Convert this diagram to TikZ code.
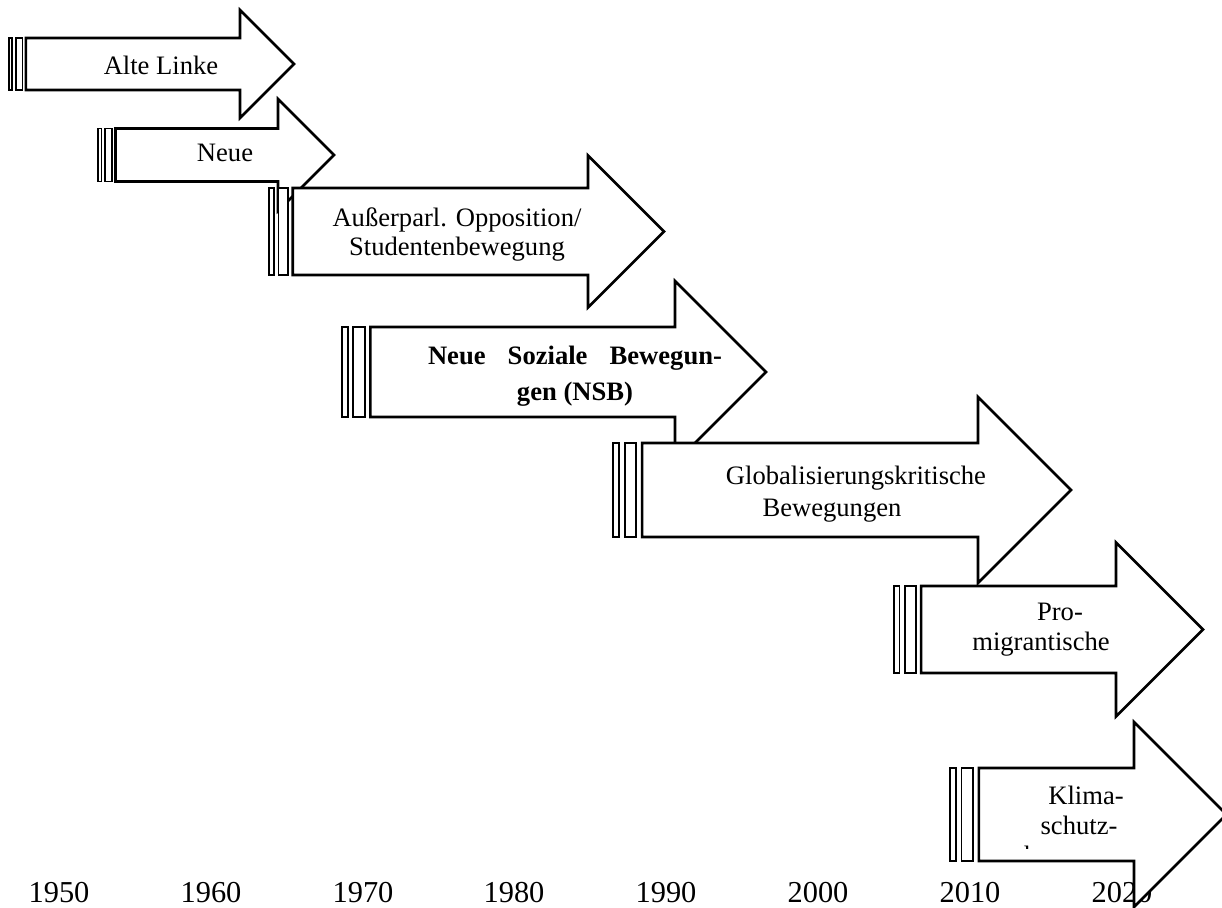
\documentclass[tikz,border=0pt]{standalone}
\usepackage{fontspec}
\setmainfont{Liberation Serif}
\tikzset{
  shaft/.style={draw=black, fill=white, line width=1.3pt, line join=miter},
  stripe/.style={draw=black, fill=white, line width=0.9pt},
  lbl/.style={align=center, inner sep=0pt, anchor=north,
    font=\fontsize{13.3}{15}\selectfont},
  yearlbl/.style={inner sep=0pt, anchor=north, font=\fontsize{15.2}{18}\selectfont}
}
% striped arrow: stripe left, head x, centre y, body half height, head half height
\newcommand{\stripedarrow}[5]{%
  \pgfmathsetmacro{\stripeA}{#1+#5/16}
  \pgfmathsetmacro{\stripeB}{#1+#5/8}
  \pgfmathsetmacro{\stripeC}{#1+#5/4}
  \pgfmathsetmacro{\bodyx}{#1+5*#5/16}
  \pgfmathsetmacro{\headtip}{#2+#5}
  \draw[stripe] (#1,#3-#4) rectangle (\stripeA,#3+#4);
  \draw[stripe] (\stripeB,#3-#4) rectangle (\stripeC,#3+#4);
  \draw[shaft] (\bodyx,#3-#4) -- (#2,#3-#4) -- (#2,#3-#5) -- (\headtip,#3)
    -- (#2,#3+#5) -- (#2,#3+#4) -- (\bodyx,#3+#4) -- cycle;
}

\begin{document}
\begin{tikzpicture}[x=0.5pt, y=-0.5pt]
  \useasboundingbox (0,0) rectangle (1222,908);
  \clip (0,0) rectangle (1222,908);
  % time axis
  \node[yearlbl] (y1950) at (59,882) {1950};
  \node[yearlbl] (y1960) at (211,882) {1960};
  \node[yearlbl] (y1970) at (363,882) {1970};
  \node[yearlbl] (y1980) at (514,882) {1980};
  \node[yearlbl] (y1990) at (666,882) {1990};
  \node[yearlbl] (y2000) at (818,882) {2000};
  \node[yearlbl] (y2010) at (970,882) {2010};
  \node[yearlbl] (y2020) at (1122,882) {2020};
  % movements
  \stripedarrow{9}{240}{64}{26}{54}
  \node[lbl] (alte) at (161,56) {Alte Linke};
  \stripedarrow{98}{278}{155}{26.5}{56}
  \node[lbl] (neue) at (225,144) {Neue};
  \stripedarrow{269}{588}{231.5}{43.5}{76}
  \node[lbl, font=\fontsize{13.3}{14.5}\selectfont] (apo) at (457,207)
    {Außerparl. Opposition/\\Studentenbewegung};
  \stripedarrow{342}{675}{372}{45}{91}
  \node[lbl, font=\bfseries\fontsize{13.3}{18}\selectfont] (nsb) at (575,346)
    {\hbox to 147pt{Neue\hfill Soziale\hfill Bewegun-}\\gen (NSB)};
  \stripedarrow{613}{978}{490}{47}{93}
  \node[lbl, font=\fontsize{13.3}{15.8}\selectfont] (glob) at (856,466)
    {Globalisierungskritische\\Bewegungen\hspace*{24pt}};
  \stripedarrow{894}{1116}{629.5}{43.5}{87}
  \node[lbl] (promig) at (1060,603) {Pro-\\migrantische\hspace*{19pt}};
  \stripedarrow{950}{1134}{814.5}{46.5}{92.5}
  \begin{scope}
    \clip (900,700) rectangle (1222,849);
    \node[lbl] (klima) at (1079,786) {\hspace*{7pt}Klima-\\schutz-\\bewegung};
  \end{scope}
\end{tikzpicture}
\end{document}
